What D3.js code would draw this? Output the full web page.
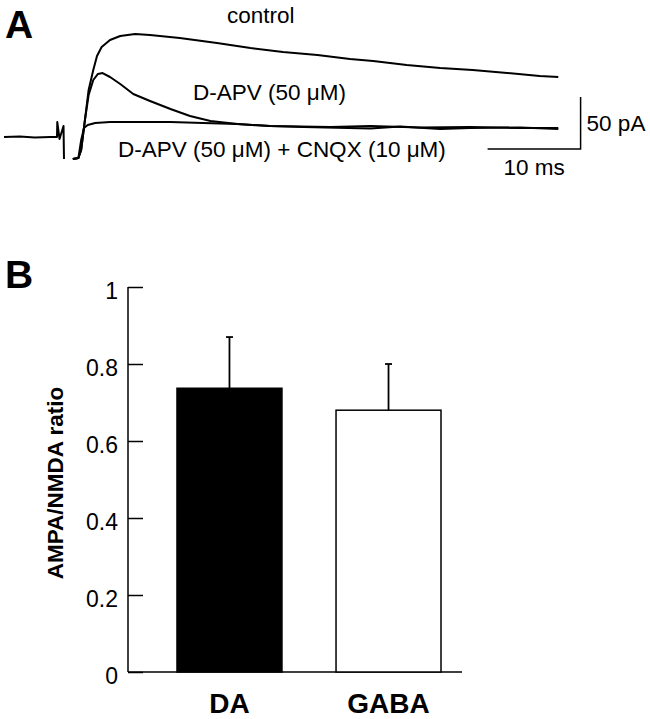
<!DOCTYPE html>
<html>
<head>
<meta charset="utf-8">
<script src="https://cdn.jsdelivr.net/npm/d3@7"></script>
<style>
  body { margin: 0; background: #fff; }
  text { font-family: "Liberation Sans", Arial, Helvetica, sans-serif; fill: #000; }
</style>
</head>
<body>
<script>
// panel A: current traces, time in ms, current in pA
let baseT = [0, 1.7, 3.3, 5.0, 5.7, 5.73, 5.97, 6.40, 6.45]
let baseI = [0, 0.5, -0.5, 0, 0, 14.4, -1.9, 10.6, -21.2]

let controlT = [7.4, 8.0, 8.3, 8.7, 9.1, 9.6, 10.0, 10.5, 11.4, 12.5, 14.1, 15.7, 18.9, 22.9, 26.5, 30.0, 33.7, 37.2, 39.7, 43.3, 46.9, 50.4, 54.1, 57.6, 59.6]
let controlI = [-21.2, -20.2, -12.5, 16.3, 45.2, 64.4, 77.9, 86.5, 93.3, 97.1, 99.0, 98.1, 95.2, 90.4, 85.6, 81.7, 78.8, 75.0, 73.1, 69.2, 66.3, 64.4, 61.5, 58.7, 57.7]

let apvT = [7.4, 8.0, 8.3, 8.7, 9.1, 9.6, 10.1, 10.6, 11.4, 12.5, 13.9, 15.7, 17.9, 20.0, 22.2, 25.1, 28.6, 32.2, 39.4, 42.6, 46.9, 50.1, 55.5, 59.6]
let apvI = [-21.2, -20.2, -12.5, 16.3, 40.4, 54.8, 60.6, 61.5, 57.7, 51.0, 41.3, 34.6, 26.9, 20.2, 15.4, 12.5, 10.6, 9.6, 8.2, 10.1, 7.7, 8.7, 9.1, 7.7]

let cnqxT = [7.4, 8.0, 8.3, 8.6, 9.0, 9.8, 11.4, 14.6, 17.9, 21.4, 25.1, 28.6, 35.1, 39.4, 44.7, 50.1, 55.5, 59.6]
let cnqxI = [-21.2, -20.2, -2.9, 8.7, 11.5, 13.5, 14.4, 14.4, 14.4, 13.5, 12.5, 10.6, 9.6, 10.6, 9.1, 9.6, 8.7, 8.7]

// panel B: AMPA/NMDA ratio
let groups = ['DA', 'GABA']
let ratio = [0.737, 0.68]
let sem = [0.133, 0.12]
let yTicks = [0, 0.2, 0.4, 0.6, 0.8, 1]

let w = 650
let h = 719
let svg = d3.select('body').append('svg').attr('width', w).attr('height', h)

// ---- A ----
let xT = d3.scaleLinear().domain([0, 60]).range([4, 562])
let yI = d3.scaleLinear().domain([0, 50]).range([137, 85])
let line = d3.line().x(d => xT(d[0])).y(d => yI(d[1]))

let traces = [[baseT, baseI], [controlT, controlI], [apvT, apvI], [cnqxT, cnqxI]]
traces.forEach(tr => {
  svg.append('path')
    .datum(tr[0].map((t, i) => [t, tr[1][i]]))
    .attr('d', line)
    .attr('fill', 'none').attr('stroke', '#000')
    .attr('stroke-width', 2).attr('stroke-linejoin', 'round')
})

// scale bar 10 ms / 50 pA
svg.append('path')
  .datum([[52, -11.5], [62, -11.5], [62, 38.5]])
  .attr('d', line)
  .attr('fill', 'none').attr('stroke', '#000').attr('stroke-width', 1.5)

svg.append('text').attr('x', 5).attr('y', 38).attr('font-size', 39).attr('font-weight', 'bold').text('A')
svg.append('text').attr('x', 227).attr('y', 23).attr('font-size', 22.5).text('control')
svg.append('text').attr('x', 193).attr('y', 100).attr('font-size', 22.5).text('D-APV (50 \u03bcM)')
svg.append('text').attr('x', 118).attr('y', 157).attr('font-size', 22.5).text('D-APV (50 \u03bcM) + CNQX (10 \u03bcM)')
svg.append('text').attr('x', xT(62) + 6).attr('y', 131).attr('font-size', 22.5).text('50 pA')
svg.append('text').attr('x', xT(57)).attr('y', 175).attr('font-size', 22.5).attr('text-anchor', 'middle').text('10 ms')

// ---- B ----
let y = d3.scaleLinear().domain([0, 1]).range([672, 287])
let x = d3.scaleBand().domain(groups).range([128, 462])
  .paddingInner(0.34).paddingOuter(0.22).align(0.7)

svg.append('text').attr('x', 5).attr('y', 288).attr('font-size', 39).attr('font-weight', 'bold').text('B')

let yAxis = svg.append('g').attr('transform', 'translate(128,0)')
  .call(d3.axisRight(y).tickValues(yTicks).tickSize(15).tickFormat(d3.format('')))
yAxis.select('.domain').remove()
yAxis.selectAll('.tick line').attr('stroke', '#000').attr('stroke-width', 1.5)
yAxis.selectAll('.tick text')
  .attr('x', -10).attr('dy', '0.5em').attr('text-anchor', 'end')
  .attr('font-size', 23).attr('font-family', '"Liberation Sans", Arial, sans-serif')

svg.append('line').attr('x1', 128).attr('x2', 128).attr('y1', y(1)).attr('y2', y(0))
  .attr('stroke', '#000').attr('stroke-width', 1.5)
svg.append('line').attr('x1', 128).attr('x2', 462).attr('y1', y(0)).attr('y2', y(0))
  .attr('stroke', '#000').attr('stroke-width', 1.5)

let bars = svg.selectAll('g.bar').data(groups).enter().append('g').attr('class', 'bar')

bars.append('line')
  .attr('x1', d => x(d) + x.bandwidth() / 2).attr('x2', d => x(d) + x.bandwidth() / 2)
  .attr('y1', (d, i) => y(ratio[i])).attr('y2', (d, i) => y(ratio[i] + sem[i]))
  .attr('stroke', '#000').attr('stroke-width', 1.8)
bars.append('line')
  .attr('x1', d => x(d) + x.bandwidth() / 2 - 3.5).attr('x2', d => x(d) + x.bandwidth() / 2 + 3.5)
  .attr('y1', (d, i) => y(ratio[i] + sem[i])).attr('y2', (d, i) => y(ratio[i] + sem[i]))
  .attr('stroke', '#000').attr('stroke-width', 1.8)

bars.append('rect')
  .attr('x', d => x(d)).attr('width', x.bandwidth())
  .attr('y', (d, i) => y(ratio[i])).attr('height', (d, i) => y(0) - y(ratio[i]))
  .attr('fill', (d, i) => i == 0 ? '#000' : '#fff')
  .attr('stroke', '#000').attr('stroke-width', 1.5)

bars.append('text')
  .attr('x', d => x(d) + x.bandwidth() / 2).attr('y', 713)
  .attr('text-anchor', 'middle').attr('font-size', 28).attr('font-weight', 'bold')
  .text(d => d)

svg.append('text')
  .attr('transform', 'translate(63,483) rotate(-90)')
  .attr('text-anchor', 'middle').attr('font-size', 22.5).attr('font-weight', 'bold')
  .text('AMPA/NMDA ratio')
</script>
</body>
</html>
